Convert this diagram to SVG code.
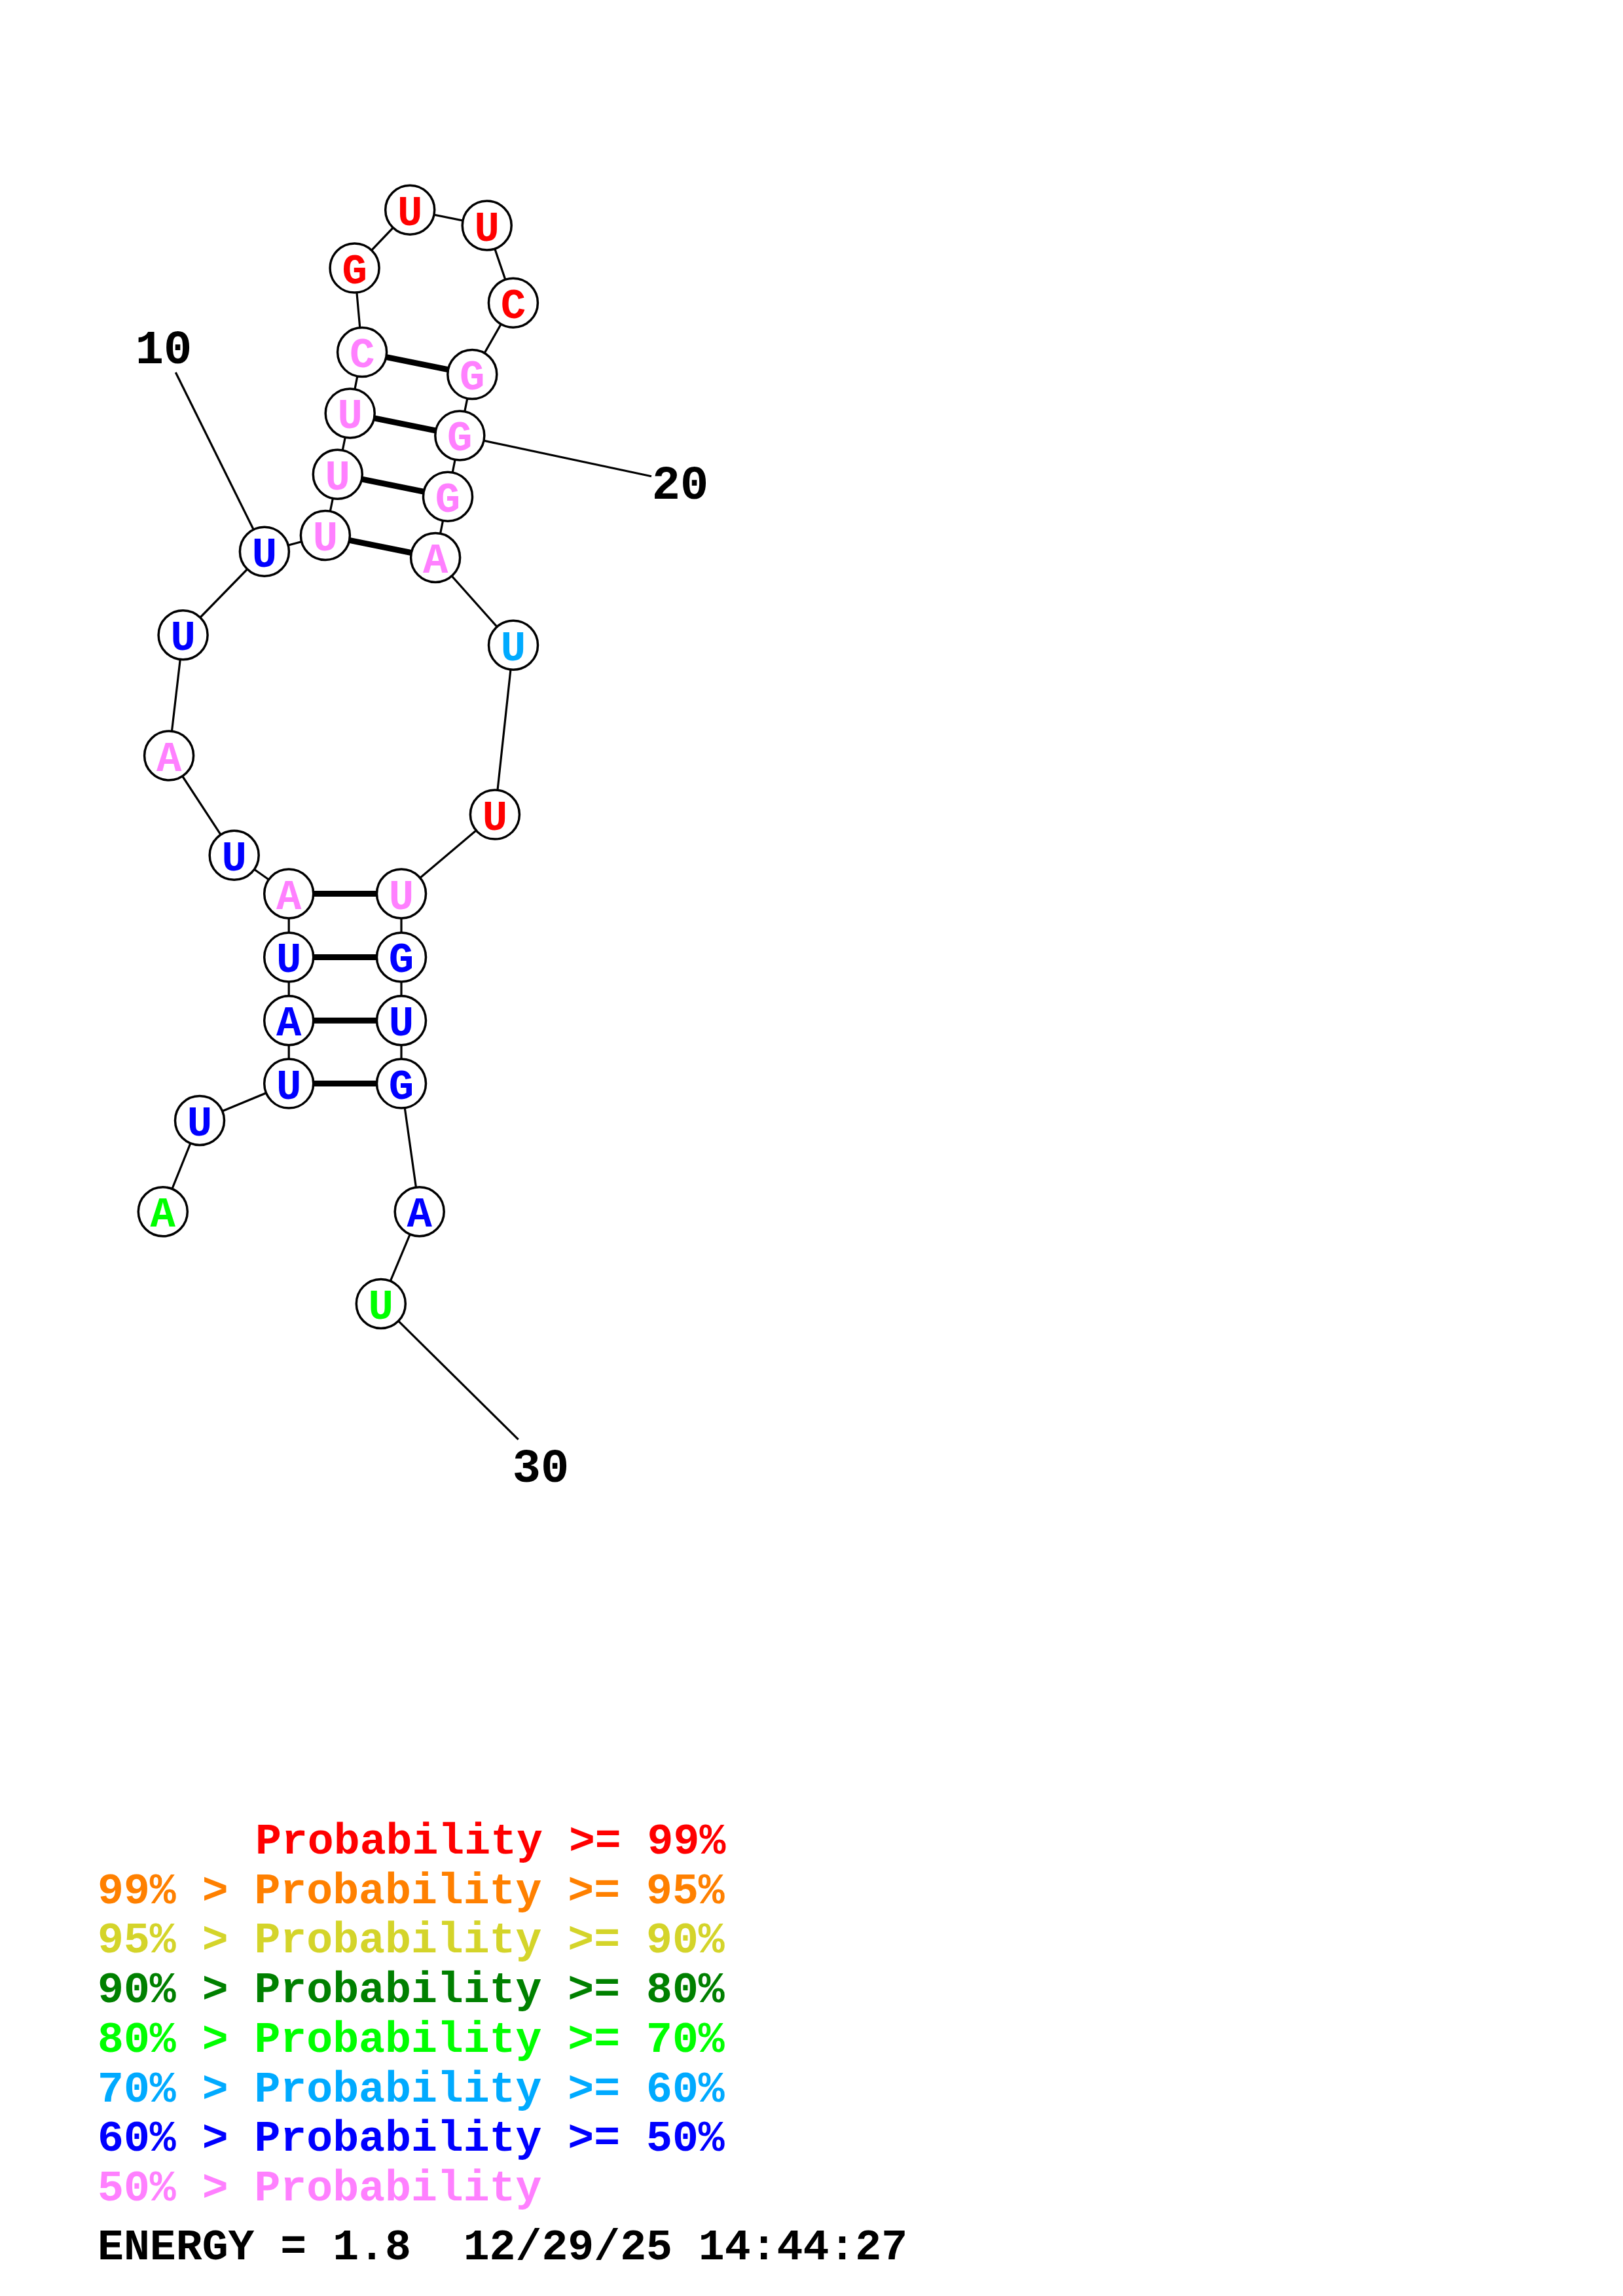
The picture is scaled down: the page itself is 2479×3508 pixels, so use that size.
<svg xmlns="http://www.w3.org/2000/svg" width="2479" height="3508" viewBox="0 0 2479 3508">
<style>
.bb{fill:none;stroke:#000;stroke-width:3.2}
.pr{stroke:#000;stroke-width:9}
.nc{fill:#fff;stroke:#000;stroke-width:3.5}
.nt{font-family:"Liberation Mono","DejaVu Sans Mono",monospace;font-weight:bold;font-size:64px;text-anchor:middle}
.lb{font-family:"Liberation Mono","DejaVu Sans Mono",monospace;font-weight:bold;font-size:72px;text-anchor:middle;fill:#000}
.lg{font-family:"Liberation Mono","DejaVu Sans Mono",monospace;font-weight:bold;font-size:66.5px}
.r{fill:#FF0000}.o{fill:#FF8000}.y{fill:#D4D42A}.dg{fill:#008000}.g{fill:#00FF00}.lb2{fill:#00AAFF}.b{fill:#0000FF}.p{fill:#FF80FF}.k{fill:#000}
</style>
<rect width="2479" height="3508" fill="#fff"/>
<g id="connectors">
<polyline class="bb" points="248.8,1851.3 305,1712 441.2,1655.6 441.2,1559.3 441.2,1462.4 441.2,1365.5 357.7,1306.7 258.1,1154.5 279.6,970.3 403.9,842.8 496.9,818 515.8,724.7 534.7,631.4 553.1,538.1 541.6,409.6 626.2,320.8 743.7,344.5 783.9,462.7 721.3,572.1 702.3,665.4 684,758.7 665.1,852 784,985.7 755.9,1244.6 613,1365.5 613,1462.4 613,1559.3 613,1655.6 640.7,1851.3 581.8,1991.9"/>
<line class="pr" x1="441.2" y1="1655.6" x2="613" y2="1655.6"/>
<line class="pr" x1="441.2" y1="1559.3" x2="613" y2="1559.3"/>
<line class="pr" x1="441.2" y1="1462.4" x2="613" y2="1462.4"/>
<line class="pr" x1="441.2" y1="1365.5" x2="613" y2="1365.5"/>
<line class="pr" x1="496.9" y1="818" x2="665.1" y2="852"/>
<line class="pr" x1="515.8" y1="724.7" x2="684" y2="758.7"/>
<line class="pr" x1="534.7" y1="631.4" x2="702.3" y2="665.4"/>
<line class="pr" x1="553.1" y1="538.1" x2="721.3" y2="572.1"/>
<line class="bb" x1="268.3" y1="569" x2="403.9" y2="842.8"/>
<line class="bb" x1="702.3" y1="665.4" x2="995" y2="727.7"/>
<line class="bb" x1="581.8" y1="1991.9" x2="791.7" y2="2199.3"/>
</g>
<g id="n1"><circle class="nc" cx="248.8" cy="1851.3" r="37.5"/><text class="nt g" x="248.8" y="1874.3">A</text></g>
<g id="n2"><circle class="nc" cx="305" cy="1712" r="37.5"/><text class="nt b" x="305" y="1735">U</text></g>
<g id="n3"><circle class="nc" cx="441.2" cy="1655.6" r="37.5"/><text class="nt b" x="441.2" y="1678.6">U</text></g>
<g id="n4"><circle class="nc" cx="441.2" cy="1559.3" r="37.5"/><text class="nt b" x="441.2" y="1582.3">A</text></g>
<g id="n5"><circle class="nc" cx="441.2" cy="1462.4" r="37.5"/><text class="nt b" x="441.2" y="1485.4">U</text></g>
<g id="n6"><circle class="nc" cx="441.2" cy="1365.5" r="37.5"/><text class="nt p" x="441.2" y="1388.5">A</text></g>
<g id="n7"><circle class="nc" cx="357.7" cy="1306.7" r="37.5"/><text class="nt b" x="357.7" y="1329.7">U</text></g>
<g id="n8"><circle class="nc" cx="258.1" cy="1154.5" r="37.5"/><text class="nt p" x="258.1" y="1177.5">A</text></g>
<g id="n9"><circle class="nc" cx="279.6" cy="970.3" r="37.5"/><text class="nt b" x="279.6" y="993.3">U</text></g>
<g id="n10"><circle class="nc" cx="403.9" cy="842.8" r="37.5"/><text class="nt b" x="403.9" y="865.8">U</text></g>
<g id="n11"><circle class="nc" cx="496.9" cy="818" r="37.5"/><text class="nt p" x="496.9" y="841">U</text></g>
<g id="n12"><circle class="nc" cx="515.8" cy="724.7" r="37.5"/><text class="nt p" x="515.8" y="747.7">U</text></g>
<g id="n13"><circle class="nc" cx="534.7" cy="631.4" r="37.5"/><text class="nt p" x="534.7" y="654.4">U</text></g>
<g id="n14"><circle class="nc" cx="553.1" cy="538.1" r="37.5"/><text class="nt p" x="553.1" y="561.1">C</text></g>
<g id="n15"><circle class="nc" cx="541.6" cy="409.6" r="37.5"/><text class="nt r" x="541.6" y="432.6">G</text></g>
<g id="n16"><circle class="nc" cx="626.2" cy="320.8" r="37.5"/><text class="nt r" x="626.2" y="343.8">U</text></g>
<g id="n17"><circle class="nc" cx="743.7" cy="344.5" r="37.5"/><text class="nt r" x="743.7" y="367.5">U</text></g>
<g id="n18"><circle class="nc" cx="783.9" cy="462.7" r="37.5"/><text class="nt r" x="783.9" y="485.7">C</text></g>
<g id="n19"><circle class="nc" cx="721.3" cy="572.1" r="37.5"/><text class="nt p" x="721.3" y="595.1">G</text></g>
<g id="n20"><circle class="nc" cx="702.3" cy="665.4" r="37.5"/><text class="nt p" x="702.3" y="688.4">G</text></g>
<g id="n21"><circle class="nc" cx="684" cy="758.7" r="37.5"/><text class="nt p" x="684" y="781.7">G</text></g>
<g id="n22"><circle class="nc" cx="665.1" cy="852" r="37.5"/><text class="nt p" x="665.1" y="875">A</text></g>
<g id="n23"><circle class="nc" cx="784" cy="985.7" r="37.5"/><text class="nt lb2" x="784" y="1008.7">U</text></g>
<g id="n24"><circle class="nc" cx="755.9" cy="1244.6" r="37.5"/><text class="nt r" x="755.9" y="1267.6">U</text></g>
<g id="n25"><circle class="nc" cx="613" cy="1365.5" r="37.5"/><text class="nt p" x="613" y="1388.5">U</text></g>
<g id="n26"><circle class="nc" cx="613" cy="1462.4" r="37.5"/><text class="nt b" x="613" y="1485.4">G</text></g>
<g id="n27"><circle class="nc" cx="613" cy="1559.3" r="37.5"/><text class="nt b" x="613" y="1582.3">U</text></g>
<g id="n28"><circle class="nc" cx="613" cy="1655.6" r="37.5"/><text class="nt b" x="613" y="1678.6">G</text></g>
<g id="n29"><circle class="nc" cx="640.7" cy="1851.3" r="37.5"/><text class="nt b" x="640.7" y="1874.3">A</text></g>
<g id="n30"><circle class="nc" cx="581.8" cy="1991.9" r="37.5"/><text class="nt g" x="581.8" y="2014.9">U</text></g>
<g id="labels">
<text class="lb" x="250" y="555">10</text>
<text class="lb" x="1039" y="762">20</text>
<text class="lb" x="826" y="2264">30</text>
</g>
<g id="legend">
<text class="lg r" x="390" y="2832">Probability &gt;= 99%</text>
<text class="lg o" x="149" y="2908" xml:space="preserve">99% &gt; Probability &gt;= 95%</text>
<text class="lg y" x="149" y="2983" xml:space="preserve">95% &gt; Probability &gt;= 90%</text>
<text class="lg dg" x="149" y="3059" xml:space="preserve">90% &gt; Probability &gt;= 80%</text>
<text class="lg g" x="149" y="3135" xml:space="preserve">80% &gt; Probability &gt;= 70%</text>
<text class="lg lb2" x="149" y="3211" xml:space="preserve">70% &gt; Probability &gt;= 60%</text>
<text class="lg b" x="149" y="3286" xml:space="preserve">60% &gt; Probability &gt;= 50%</text>
<text class="lg p" x="149" y="3362" xml:space="preserve">50% &gt; Probability</text>
<text class="lg k" x="149" y="3452" xml:space="preserve">ENERGY = 1.8  12/29/25 14:44:27</text>
</g>
</svg>
